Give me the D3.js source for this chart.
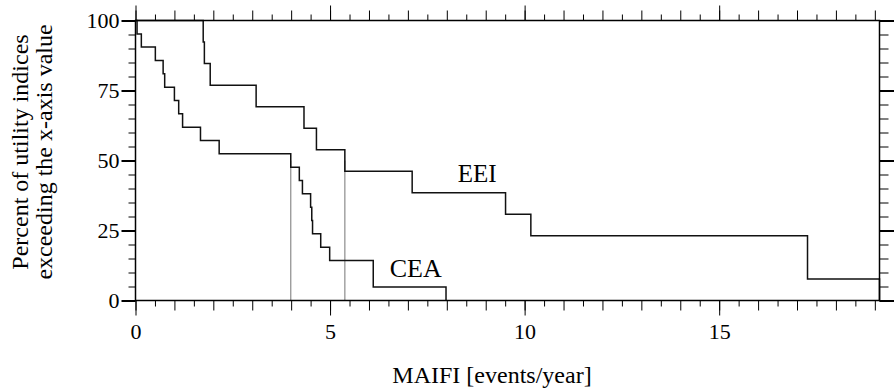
<!DOCTYPE html>
<html>
<head>
<meta charset="utf-8">
<script src="https://cdn.jsdelivr.net/npm/d3@7"></script>
<style>
  html, body { margin: 0; padding: 0; background: #fff; }
  svg { display: block; }
  text { font-family: "Liberation Serif", "Times New Roman", serif; fill: #000; }
</style>
</head>
<body>
<svg id="chart" width="894" height="391"></svg>
<script>
// ---- data ----
const ceaMaifi   = [0, 0.04, 0.15, 0.51, 0.71, 0.75, 1.00, 1.11, 1.21, 1.67, 2.15, 3.99, 4.21, 4.29, 4.50, 4.53, 4.55, 4.76, 4.99, 6.11, 7.98];
const ceaPercent = [100, 95.2, 90.5, 85.7, 81.0, 76.2, 71.4, 66.7, 61.9, 57.1, 52.4, 47.6, 42.9, 38.1, 33.3, 28.6, 23.8, 19.0, 14.3, 4.8, 0];
const eeiMaifi   = [0, 1.74, 1.77, 1.92, 3.10, 4.33, 4.65, 5.38, 7.11, 9.51, 10.16, 17.27, 19.12];
const eeiPercent = [100, 92.3, 84.6, 76.9, 69.2, 61.5, 53.8, 46.2, 38.5, 30.8, 23.1, 7.7, 0];
const medians = [3.99, 5.38];          // CEA, EEI medians (50 % crossing)
const seriesNames = ["CEA", "EEI"];
const xTickLabels = [0, 5, 10, 15];
const yTickLabels = [0, 25, 50, 75, 100];
const xTitle = "MAIFI [events/year]";
const yTitle = ["Percent of utility indices", "exceeding the x-axis value"];

// ---- layout ----
const svg = d3.select("#chart");
const L = 135.5, R = 879.5, T = 20.5, B = 300.5;
const x = d3.scaleLinear().domain([0, 19.12]).range([L, R]);
const y = d3.scaleLinear().domain([0, 100]).range([B, T]);

const intTicks = d3.range(0, 20, 1);
const halfTicks = d3.range(0.5, 19.1, 1);
const yMinor = d3.range(0, 101, 5);
const FONT = "Liberation Serif";

function styleAxis(g, sw) {
  g.select(".domain").remove();
  g.selectAll(".tick line").attr("stroke", "#000").attr("stroke-width", sw || 1);
}

// bottom axis
svg.append("g").attr("transform", `translate(0,${B})`)
  .call(d3.axisBottom(x).tickValues(halfTicks).tickSize(6).tickFormat(""))
  .call(g => styleAxis(g));
svg.append("g").attr("transform", `translate(0,${B})`)
  .call(d3.axisBottom(x).tickValues(intTicks).tickSize(10).tickFormat(""))
  .call(g => styleAxis(g));
svg.append("g").attr("transform", `translate(0,${B})`)
  .call(d3.axisBottom(x).tickValues(xTickLabels).tickSize(15).tickPadding(8).tickFormat(d3.format("d")))
  .call(g => styleAxis(g))
  .call(g => g.selectAll("text").attr("font-size", 22).attr("font-family", FONT));

// top axis
svg.append("g").attr("transform", `translate(0,${T})`)
  .call(d3.axisTop(x).tickValues(halfTicks).tickSize(6).tickFormat(""))
  .call(g => styleAxis(g));
svg.append("g").attr("transform", `translate(0,${T})`)
  .call(d3.axisTop(x).tickValues(intTicks).tickSize(10).tickFormat(""))
  .call(g => styleAxis(g));
svg.append("g").attr("transform", `translate(0,${T})`)
  .call(d3.axisTop(x).tickValues(xTickLabels).tickSize(15).tickFormat(""))
  .call(g => styleAxis(g));

// left axis
svg.append("g").attr("transform", `translate(${L},0)`)
  .call(d3.axisLeft(y).tickValues(yMinor).tickSize(7).tickFormat(""))
  .call(g => styleAxis(g));
svg.append("g").attr("transform", `translate(${L},0)`)
  .call(d3.axisLeft(y).tickValues(yTickLabels).tickSize(14).tickPadding(2).tickFormat(d3.format("d")))
  .call(g => styleAxis(g, 2))
  .call(g => g.selectAll("text").attr("font-size", 22).attr("font-family", FONT));

// right axis
svg.append("g").attr("transform", `translate(${R},0)`)
  .call(d3.axisRight(y).tickValues(yMinor).tickSize(9).tickFormat(""))
  .call(g => styleAxis(g));
svg.append("g").attr("transform", `translate(${R},0)`)
  .call(d3.axisRight(y).tickValues(yTickLabels).tickSize(15).tickFormat(""))
  .call(g => styleAxis(g, 2));

// median markers
svg.append("g").selectAll("line").data(medians).join("line")
  .attr("x1", d => x(d)).attr("x2", d => x(d))
  .attr("y1", y(50)).attr("y2", y(0))
  .attr("stroke", "#8c8c8c").attr("stroke-width", 1.2);

// step curves
const line = d3.line().x(d => x(d[0])).y(d => y(d[1])).curve(d3.curveStepAfter);
const series = [
  d3.zip(ceaMaifi, ceaPercent),
  d3.zip(eeiMaifi, eeiPercent)
];
svg.append("g").selectAll("path").data(series).join("path")
  .attr("d", line).attr("fill", "none")
  .attr("stroke", "#111").attr("stroke-width", 1.5);

// frame
svg.append("rect").attr("x", L).attr("y", T).attr("width", R - L).attr("height", B - T)
  .attr("fill", "none").attr("stroke", "#000").attr("stroke-width", 1.5);

// series labels
svg.append("text").attr("x", x(8.78)).attr("y", y(42.5)).attr("text-anchor", "middle")
  .attr("font-size", 25).text(seriesNames[1]);
svg.append("text").attr("x", x(7.2)).attr("y", y(8.4)).attr("text-anchor", "middle")
  .attr("font-size", 26).text(seriesNames[0]);

// axis titles
svg.append("text").attr("x", 492).attr("y", 383).attr("text-anchor", "middle")
  .attr("font-size", 24).text(xTitle);
const yt = svg.append("text").attr("transform", "translate(0,152) rotate(-90)")
  .attr("text-anchor", "middle").attr("font-size", 24);
yt.append("tspan").attr("x", 0).attr("y", 28).text(yTitle[0]);
yt.append("tspan").attr("x", 0).attr("y", 52).text(yTitle[1]);
</script>
</body>
</html>
